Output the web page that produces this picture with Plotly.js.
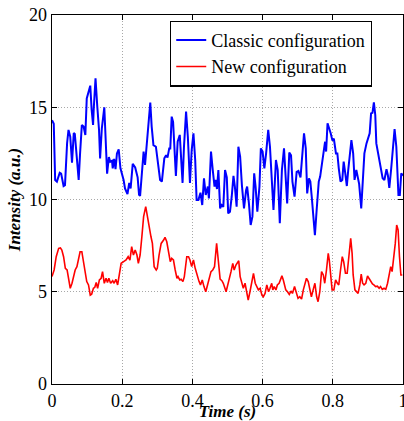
<!DOCTYPE html>
<html>
<head>
<meta charset="utf-8">
<script src="https://cdn.plot.ly/plotly-3.0.1.min.js"></script>
<style>html,body{margin:0;padding:0;background:#fff;}#chart{width:404px;height:421px;}</style>
</head>
<body>
<div id="chart"></div>
<script>
const classicTime = [0.000,0.005,0.009,0.014,0.022,0.026,0.033,0.037,0.043,0.047,0.052,0.057,0.062,0.065,0.071,0.076,0.080,0.085,0.090,0.095,0.099,0.104,0.109,0.113,0.117,0.119,0.124,0.129,0.134,0.137,0.142,0.149,0.153,0.157,0.162,0.166,0.171,0.173,0.177,0.181,0.185,0.190,0.195,0.199,0.204,0.208,0.215,0.220,0.224,0.230,0.237,0.244,0.248,0.251,0.256,0.261,0.265,0.270,0.275,0.280,0.284,0.289,0.296,0.301,0.308,0.313,0.320,0.325,0.329,0.334,0.337,0.341,0.345,0.353,0.358,0.364,0.372,0.376,0.382,0.387,0.393,0.398,0.403,0.408,0.412,0.417,0.423,0.428,0.433,0.438,0.444,0.447,0.453,0.458,0.463,0.466,0.470,0.474,0.479,0.483,0.488,0.493,0.498,0.502,0.507,0.512,0.517,0.521,0.526,0.531,0.536,0.541,0.547,0.553,0.556,0.561,0.566,0.571,0.576,0.580,0.585,0.591,0.595,0.600,0.605,0.610,0.616,0.621,0.627,0.631,0.638,0.643,0.649,0.655,0.661,0.665,0.670,0.676,0.681,0.685,0.691,0.697,0.702,0.708,0.713,0.718,0.723,0.727,0.732,0.736,0.740,0.745,0.749,0.754,0.760,0.764,0.770,0.774,0.778,0.781,0.785,0.790,0.794,0.799,0.803,0.809,0.813,0.817,0.822,0.827,0.831,0.835,0.840,0.844,0.849,0.853,0.858,0.862,0.867,0.871,0.875,0.881,0.885,0.890,0.896,0.901,0.905,0.909,0.913,0.917,0.921,0.924,0.931,0.937,0.942,0.947,0.953,0.957,0.961,0.966,0.971,0.976,0.981,0.987,0.991,0.995,1.000];
const classicIntensity = [14.3,14.1,11.06,10.97,11.45,11.4,10.73,10.78,13.05,13.77,13.4,12.0,13.6,13.55,12.2,11.06,12.5,14.04,13.95,13.5,15.48,15.9,16.17,14.85,14.04,14.95,16.57,15.04,13.77,12.23,13.86,15.0,13.4,11.4,12.3,12.05,12.1,11.69,12.2,11.64,12.5,12.72,11.69,11.42,11.06,10.6,10.3,10.9,10.6,11.93,11.74,11.2,10.25,10.2,11.42,12.6,11.87,12.9,14.04,15.25,13.95,12.95,12.86,12.05,11.06,10.97,12.23,12.4,12.27,12.77,12.77,14.49,14.2,11.28,13.13,13.5,10.9,12.86,14.76,13.4,10.9,12.68,13.59,12.14,9.97,9.97,10.37,9.7,11.15,10.25,10.7,10.06,12.6,11.6,10.7,11.06,10.57,11.6,9.52,9.7,9.6,11.6,11.2,9.25,9.34,10.15,11.28,10.7,9.61,12.86,12.32,10.78,9.52,10.5,10.7,9.79,8.62,9.07,11.42,10.7,9.34,10.7,12.77,12.6,11.69,12.5,13.77,12.86,10.7,9.43,12.14,11.6,8.71,11.6,12.77,11.28,9.79,12.54,12.4,10.97,10.15,11.5,11.55,11.2,12.68,13.59,12.77,10.33,11.15,10.97,10.15,9.07,8.07,9.43,10.97,11.24,12.23,12.59,13.13,12.6,14.13,13.86,13.59,13.19,13.3,12.5,12.5,11.69,10.97,11.06,12.05,11.5,10.73,11.6,12.68,13.22,12.5,11.06,11.6,11.15,10.85,9.52,11.06,12.5,13.04,13.31,13.59,14.67,14.7,15.27,14.58,13.04,12.32,11.6,11.15,11.06,11.64,11.3,10.63,11.6,12.68,13.81,12.86,10.24,10.24,11.42,11.3];

const newTime = [0.000,0.006,0.012,0.019,0.024,0.028,0.033,0.038,0.043,0.047,0.052,0.057,0.062,0.066,0.071,0.076,0.080,0.085,0.090,0.095,0.099,0.104,0.109,0.113,0.118,0.122,0.126,0.130,0.135,0.140,0.144,0.149,0.154,0.158,0.162,0.167,0.173,0.177,0.182,0.187,0.192,0.197,0.204,0.211,0.217,0.222,0.227,0.232,0.237,0.242,0.246,0.251,0.256,0.261,0.267,0.272,0.277,0.282,0.286,0.291,0.297,0.300,0.305,0.311,0.318,0.322,0.327,0.332,0.337,0.341,0.346,0.351,0.356,0.359,0.364,0.368,0.373,0.377,0.384,0.389,0.393,0.398,0.403,0.408,0.412,0.419,0.423,0.428,0.433,0.438,0.442,0.447,0.453,0.458,0.463,0.469,0.474,0.479,0.484,0.488,0.496,0.500,0.505,0.510,0.515,0.519,0.524,0.529,0.532,0.536,0.540,0.545,0.550,0.555,0.559,0.564,0.569,0.574,0.579,0.583,0.588,0.593,0.598,0.602,0.607,0.612,0.617,0.621,0.626,0.629,0.633,0.638,0.642,0.647,0.651,0.655,0.659,0.663,0.666,0.671,0.676,0.681,0.685,0.691,0.696,0.701,0.706,0.711,0.716,0.720,0.725,0.730,0.735,0.739,0.744,0.749,0.754,0.758,0.763,0.768,0.773,0.777,0.782,0.787,0.790,0.794,0.798,0.803,0.808,0.813,0.817,0.822,0.827,0.831,0.836,0.841,0.846,0.851,0.855,0.858,0.863,0.868,0.872,0.877,0.881,0.885,0.889,0.894,0.899,0.903,0.908,0.913,0.917,0.922,0.927,0.932,0.936,0.941,0.946,0.951,0.956,0.960,0.965,0.969,0.974,0.978,0.982,0.986,0.990,0.994,0.998];
const newIntensity = [5.82,6.18,6.9,7.35,7.38,7.26,6.9,6.27,6.18,5.64,5.19,5.46,5.82,6.18,6.36,6.9,7.17,7.17,6.54,5.91,5.55,5.37,4.82,4.87,5.19,5.24,5.5,5.19,5.64,5.73,6.09,5.46,5.73,5.5,5.73,5.46,5.6,5.46,5.68,5.37,6.09,6.54,6.63,6.72,6.9,6.72,7.44,6.99,7.26,6.99,6.54,6.99,7.98,9.07,9.61,9.07,8.35,7.98,7.62,6.36,6.18,6.27,6.99,7.62,7.8,7.95,7.71,7.08,6.63,6.81,6.72,6.18,5.73,5.82,5.64,5.68,5.55,5.82,6.9,6.9,6.72,6.36,6.72,6.27,5.96,5.55,5.37,5.64,5.28,5.0,5.28,5.73,6.09,6.18,6.36,7.62,6.72,5.68,5.6,5.46,5.0,5.28,5.64,6.09,6.54,6.18,6.45,6.63,6.68,5.82,5.46,5.19,5.46,5.04,4.55,5.0,5.46,6.0,5.46,5.28,5.1,5.19,4.82,4.73,4.91,5.37,5.0,5.19,5.46,5.1,5.28,5.1,5.37,5.46,5.64,5.86,5.64,5.37,5.1,5.0,4.86,5.04,4.91,5.28,4.91,4.64,4.73,4.6,5.1,5.46,5.73,5.55,5.1,4.73,5.1,5.46,4.73,4.46,5.0,6.09,5.91,5.46,6.18,7.08,6.72,5.64,5.1,5.1,5.64,5.46,5.37,6.18,6.9,6.63,6.0,6.0,6.81,7.9,7.08,5.91,5.1,5.0,4.91,5.37,5.96,5.46,5.37,5.46,5.86,5.73,5.55,5.42,5.37,5.28,5.3,5.19,5.28,5.13,5.19,5.13,5.46,5.91,6.36,6.09,6.9,7.62,8.62,8.35,6.9,5.91,5.91];

const xTicks = [0, 0.2, 0.4, 0.6, 0.8, 1];
const xTickLabels = ['0', '0.2', '0.4', '0.6', '0.8', '1'];
const yTicks = [0, 5, 10, 15, 20];
const yTickLabels = ['0', '5', '10', '15', '20'];

const serif = 'Liberation Serif, Times New Roman, serif';

const traces = [
  {x: classicTime, y: classicIntensity, type: 'scatter', mode: 'lines', name: 'Classic configuration',
   line: {color: '#0000ff', width: 2}},
  {x: newTime, y: newIntensity, type: 'scatter', mode: 'lines', name: 'New configuration',
   line: {color: '#ff0000', width: 1.6}}
];

const axisCommon = {
  showline: true, linecolor: '#000', linewidth: 1.3, mirror: 'ticks',
  ticks: 'inside', ticklen: 5, tickcolor: '#000', tickwidth: 1,
  showgrid: true, gridcolor: '#a8a8a8', griddash: '1px,2px', gridwidth: 1,
  zeroline: false, tickfont: {family: serif, size: 18, color: '#000'},
  ticklabeloverflow: 'allow'
};

const layout = {
  width: 404, height: 421,
  margin: {l: 52, r: 1, t: 15, b: 37},
  paper_bgcolor: '#fff', plot_bgcolor: '#fff',
  showlegend: true,
  legend: {x: 0.336, y: 0.985, xanchor: 'left', yanchor: 'top',
           bgcolor: '#fff', bordercolor: '#000', borderwidth: 1.3,
           font: {family: serif, size: 18, color: '#000'}, tracegroupgap: 0, itemwidth: 30},
  xaxis: Object.assign({}, axisCommon, {
    range: [0, 1], tickvals: xTicks, ticktext: xTickLabels,
    title: {text: 'Time (s)', font: {family: serif, size: 17, color: '#000', weight: 'bold', style: 'italic'}, standoff: 0}
  }),
  yaxis: Object.assign({}, axisCommon, {
    range: [0, 20], tickvals: yTicks, ticktext: yTickLabels,
    title: {text: 'Intensity (a.u.)', font: {family: serif, size: 17, color: '#000', weight: 'bold', style: 'italic'}, standoff: 4}
  })
};

Plotly.newPlot('chart', traces, layout, {displayModeBar: false, staticPlot: true});
</script>
</body>
</html>
